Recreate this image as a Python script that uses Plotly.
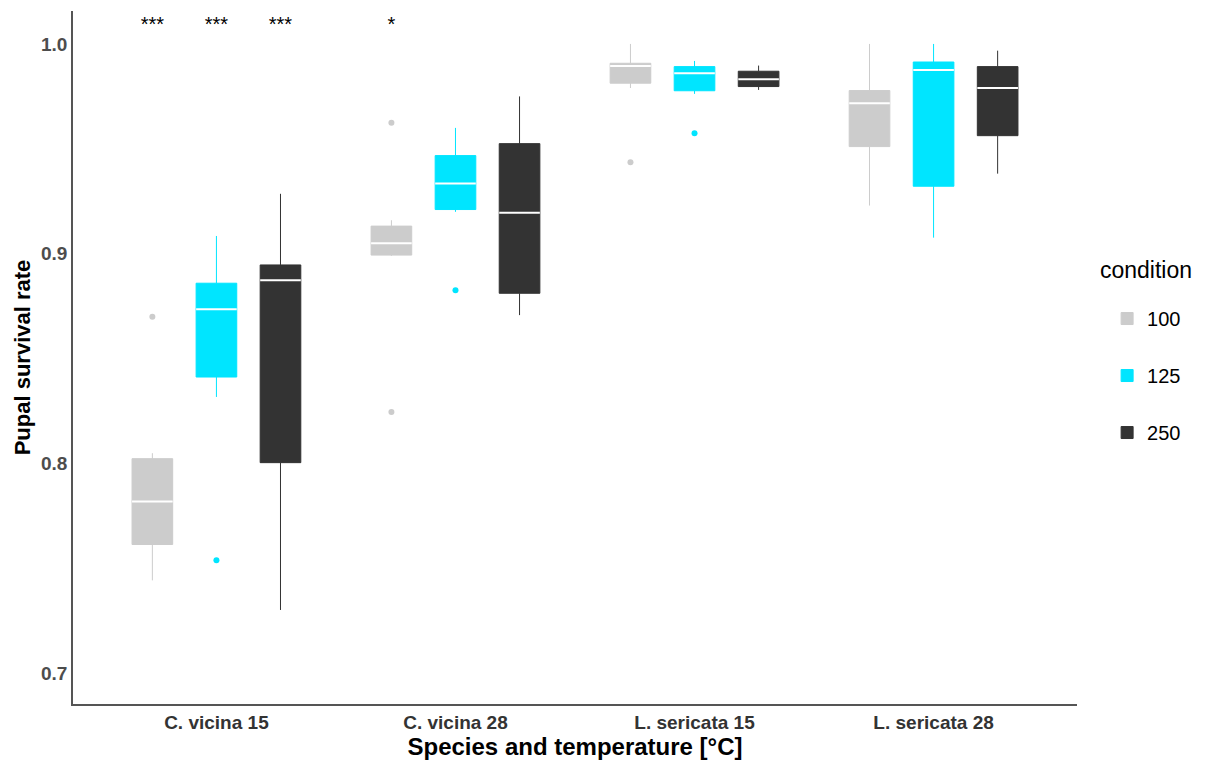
import plotly.graph_objects as go

# categories and conditions
groups = ['C. vicina 15', 'C. vicina 28', 'L. sericata 15', 'L. sericata 28']
conditions = ['100', '125', '250']
colors = {'100': '#CCCCCC', '125': '#00E5FF', '250': '#333333'}

# box statistics, one list per condition (order = groups)
lower = {'100': [0.7444, 0.899, 0.979, 0.923],
         '125': [0.8318, 0.920, 0.9762, 0.9077],
         '250': [0.7303, 0.8708, 0.9781, 0.9382]}
q1 = {'100': [0.7615, 0.8994, 0.9813, 0.9511],
      '125': [0.8413, 0.9211, 0.9777, 0.9322],
      '250': [0.8005, 0.8812, 0.9797, 0.9563]}
median = {'100': [0.782, 0.905, 0.9895, 0.9718],
          '125': [0.8736, 0.9335, 0.986, 0.9876],
          '250': [0.8874, 0.9196, 0.9832, 0.979]}
q3 = {'100': [0.8024, 0.9132, 0.9908, 0.9778],
      '125': [0.886, 0.9468, 0.9892, 0.9914],
      '250': [0.8947, 0.9525, 0.987, 0.9892]}
upper = {'100': [0.805, 0.916, 1.0, 1.0],
         '125': [0.9085, 0.960, 0.9919, 1.0],
         '250': [0.9286, 0.975, 0.9897, 0.9968]}

# outliers: (group index, value)
outliers = {'100': [(0, 0.870), (1, 0.9625), (1, 0.8246), (2, 0.9436)],
            '125': [(0, 0.754), (1, 0.8827), (2, 0.9574)],
            '250': []}

# significance labels (group index, condition, text)
stars = [(0, '100', '***'), (0, '125', '***'), (0, '250', '***'), (1, '100', '*')]
star_y = 1.0085

dodge = {'100': -0.268, '125': 0.0, '250': 0.268}
box_w = 0.17

fig = go.Figure()

for c in conditions:
    xs = [i + 1 + dodge[c] for i in range(len(groups))]
    fig.add_trace(go.Box(
        x=xs, q1=q1[c], median=median[c], q3=q3[c],
        lowerfence=lower[c], upperfence=upper[c],
        name=c, legendgroup=c,
        fillcolor=colors[c], line=dict(color=colors[c], width=1),
        width=box_w, whiskerwidth=0, boxpoints=False,
    ))
    # white median lines on top
    mx, my = [], []
    for x, m in zip(xs, median[c]):
        mx += [x - box_w / 2, x + box_w / 2, None]
        my += [m, m, None]
    fig.add_trace(go.Scatter(x=mx, y=my, mode='lines',
                             line=dict(color='white', width=2),
                             showlegend=False, hoverinfo='skip'))
    if outliers[c]:
        fig.add_trace(go.Scatter(
            x=[g + 1 + dodge[c] for g, v in outliers[c]],
            y=[v for g, v in outliers[c]],
            mode='markers', marker=dict(color=colors[c], size=6),
            showlegend=False, hoverinfo='skip'))

fig.add_trace(go.Scatter(
    x=[g + 1 + dodge[c] for g, c, t in stars],
    y=[star_y] * len(stars),
    text=[t for g, c, t in stars],
    mode='text', textfont=dict(size=20, color='black', family='Liberation Sans'),
    showlegend=False, hoverinfo='skip'))

# legend title as a separate annotation so spacing can follow the original
fig.add_annotation(text='condition', xref='paper', yref='paper',
                   x=1.021, y=0.626, xanchor='left', yanchor='middle',
                   showarrow=False, font=dict(size=23, color='black'))

fig.update_layout(
    width=1209, height=762,
    plot_bgcolor='white', paper_bgcolor='white',
    margin=dict(l=73, r=132, t=11, b=56),
    font=dict(family='Liberation Sans', color='black'),
    boxmode='overlay',
    legend=dict(font=dict(size=20), x=1.03, y=0.474, yanchor='middle',
                xanchor='left', tracegroupgap=28, itemwidth=30),
    xaxis=dict(range=[0.4, 4.6], tickvals=[1, 2, 3, 4],
               ticktext=['<b>%s</b>' % g for g in groups],
               tickfont=dict(size=19, color='#333333'),
               showline=True, linecolor='#555555', linewidth=1.5,
               showgrid=False, zeroline=False, ticks='',
               title=dict(text='<b>Species and temperature [°C]</b>',
                          font=dict(size=24), standoff=2)),
    yaxis=dict(range=[0.6855, 1.0157], tickvals=[0.7, 0.8, 0.9, 1.0],
               ticktext=['<b>0.7</b>', '<b>0.8</b>', '<b>0.9</b>', '<b>1.0</b>'],
               tickfont=dict(size=19, color='#4D4D4D'),
               showline=True, linecolor='#555555', linewidth=1.5,
               showgrid=False, zeroline=False, ticks='',
               title=dict(text='<b>Pupal survival rate</b>',
                          font=dict(size=22), standoff=4)),
)

fig.write_html("out.html", config={'displayModeBar': False},
               post_script="document.body.style.margin='0';")
